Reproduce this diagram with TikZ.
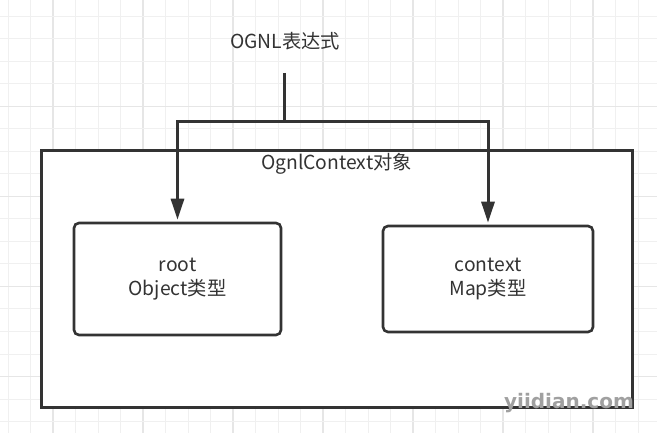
\documentclass[tikz,border=0pt]{standalone}
\usepackage{fontspec}
\setmainfont{Noto Sans CJK SC}
\newfontfamily\wmfont{DejaVu Sans}
\usetikzlibrary{arrows.meta}
\definecolor{ink}{HTML}{333333}
\definecolor{gridc}{HTML}{F0F0F0}
\definecolor{gridm}{HTML}{E6E6E6}
\definecolor{wmc}{HTML}{A0A0A0}
\tikzset{
  gridline/.style={gridc, line width=1pt},
  gridmajor/.style={gridm, line width=1.3pt},
  txt/.style={text=ink, font=\fontsize{19.3}{23.5}\selectfont, inner sep=0pt, align=center},
  outerbox/.style={draw=ink, fill=white, line width=3pt, inner sep=0pt},
  innerbox/.style={draw=ink, fill=white, line width=2.6pt, rounded corners=5pt, inner sep=0pt, align=center,
    text=ink, font=\fontsize{19.3}{23.5}\selectfont},
  conn/.style={draw=ink, line width=3pt, -{Triangle[length=21pt,width=13pt]}, shorten >=2pt},
  stemline/.style={draw=ink, line width=3pt},
  wmark/.style={text=wmc, font=\wmfont\bfseries\fontsize{20}{24}\selectfont, inner sep=0pt, anchor=base}
}
\begin{document}
\begin{tikzpicture}[x=1pt,y=-1pt]
\useasboundingbox (0,0) rectangle (657,433);
\fill[white] (0,0) rectangle (657,433);
% grid
\foreach \i in {0,...,28} {
  \pgfmathtruncatemacro{\m}{mod(\i,4)==2}
  \ifnum\m=1
    \draw[gridmajor] ({8+22.5*\i},0) -- ({8+22.5*\i},433);
  \else
    \draw[gridline] ({8+22.5*\i},0) -- ({8+22.5*\i},433);
  \fi
}
\foreach \j in {0,...,18} {
  \pgfmathtruncatemacro{\m}{mod(\j,4)==0 && \j>0}
  \ifnum\m=1
    \draw[gridmajor] (0,{16.5+22.5*\j}) -- (657,{16.5+22.5*\j});
  \else
    \draw[gridline] (0,{16.5+22.5*\j}) -- (657,{16.5+22.5*\j});
  \fi
}
% outer container
\node[outerbox, minimum width=591pt, minimum height=256pt] (outer) at (336.5,279) {};
\node[txt] (title) at (336.5,164) {OgnlContext对象};
% expression label
\node[txt] (ognl) at (285,41) {OGNL表达式};
% inner boxes
\node[innerbox, minimum width=207pt, minimum height=112pt] (root) at (177.5,279) {root\\Object类型};
\node[innerbox, minimum width=210pt, minimum height=106pt] (ctx) at (488,279) {context\\Map类型};
% connectors
\coordinate (stemtop) at (284,73);
\coordinate (junction) at (284,122);
\draw[stemline] (stemtop) -- (junction);
\draw[conn] ([xshift=1.5pt]junction) -| (root.north);
\draw[conn] ([xshift=-1.5pt]junction) -| (ctx.north);
% watermark
\node[wmark] (wm) at (569,408) {yiidian.com};
\end{tikzpicture}
\end{document}
